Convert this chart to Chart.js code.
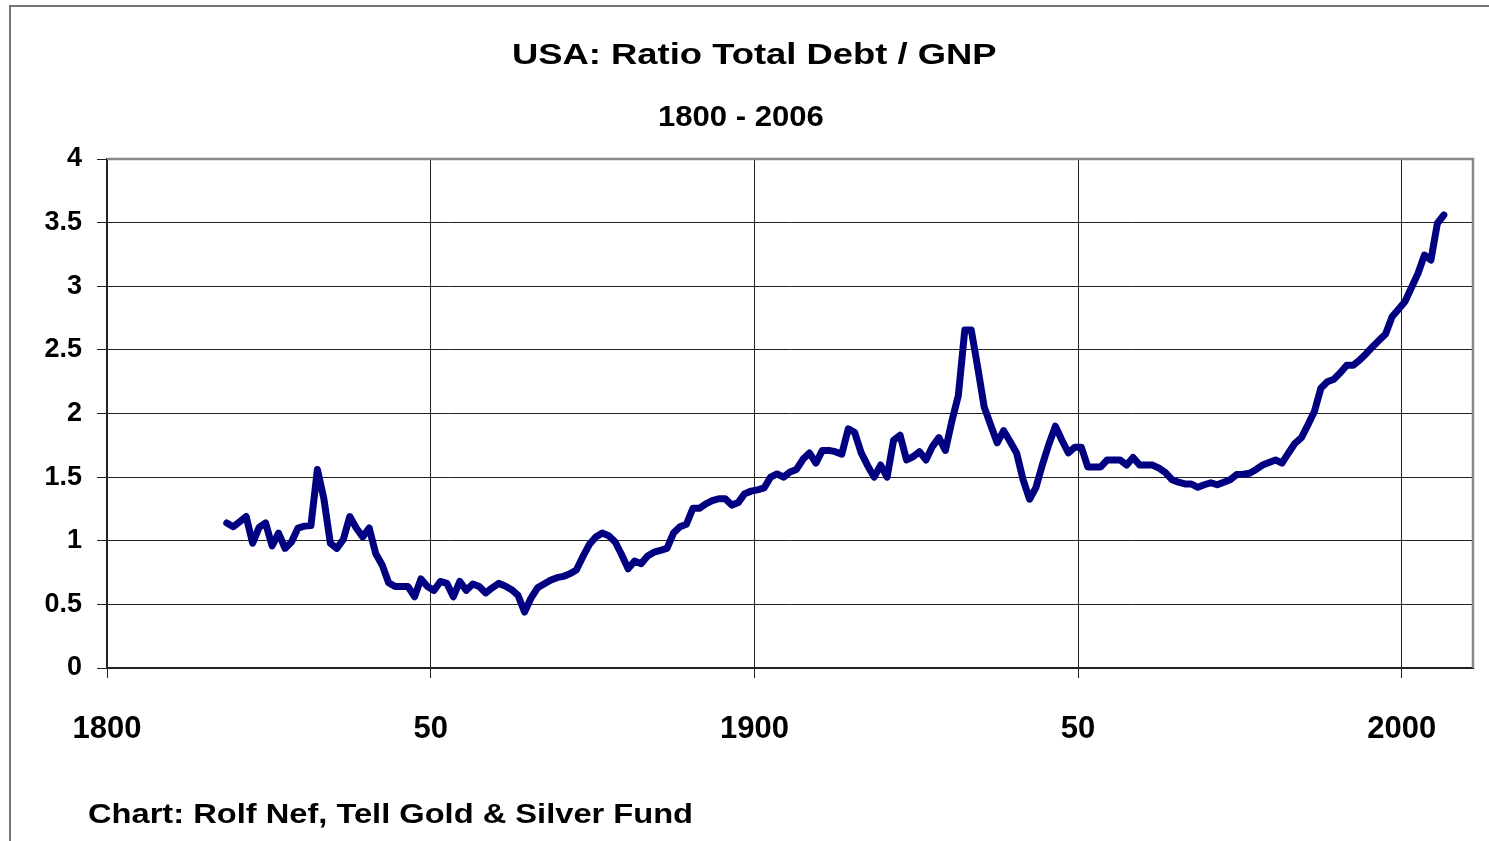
<!DOCTYPE html>
<html>
<head>
<meta charset="utf-8">
<title>USA: Ratio Total Debt / GNP</title>
<script src="https://cdn.jsdelivr.net/npm/chart.js@4.4.1/dist/chart.umd.min.js"></script>
<style>
  html, body { margin: 0; padding: 0; background: #fff; }
  #wrap { position: relative; width: 1489px; height: 841px; overflow: hidden;
          font-family: "Liberation Sans", Arial, sans-serif; font-weight: bold; color: #000; }
  #frame { position: absolute; left: 9px; top: 5px; width: 1500px; height: 900px;
           border-left: 2px solid #777; border-top: 2px solid #777; }
  .txt { position: absolute; white-space: nowrap; line-height: 1; transform-origin: 0 0; }
  #chart { position: absolute; left: 0; top: 0; }
</style>
</head>
<body>
<div id="wrap">
  <div id="frame"></div>
  <canvas id="chart" width="1489" height="841"></canvas>
  <div class="txt" id="title" style="font-size:30px">USA: Ratio Total Debt / GNP</div>
  <div class="txt" id="subtitle" style="font-size:29px">1800 - 2006</div>
  <div class="txt" id="footer" style="font-size:28px">Chart: Rolf Nef, Tell Gold &amp; Silver Fund</div>
</div>
<script>
/* USA total debt / GNP, yearly */

var FIRST_YEAR = 1818;
var DEBT_RATIO = [
  // 1818-1829
  1.14, 1.11, 1.15, 1.19, 0.98, 1.105, 1.14, 0.96, 1.06, 0.94, 0.99, 1.10,
  // 1830s
  1.115, 1.12, 1.56, 1.33, 0.98, 0.94, 1.01, 1.19, 1.10, 1.03,
  // 1840s
  1.10, 0.90, 0.81, 0.67, 0.64, 0.64, 0.64, 0.56, 0.70, 0.64,
  // 1850s
  0.61, 0.68, 0.665, 0.56, 0.68, 0.61, 0.66, 0.64, 0.59, 0.63,
  // 1860s
  0.665, 0.645, 0.615, 0.57, 0.44, 0.55, 0.63, 0.66, 0.69, 0.71,
  // 1870s
  0.72, 0.74, 0.77, 0.875, 0.97, 1.03, 1.06, 1.04, 0.99, 0.89,
  // 1880s
  0.78, 0.84, 0.82, 0.88, 0.91, 0.925, 0.94, 1.06, 1.11, 1.13,
  // 1890s
  1.255, 1.255, 1.29, 1.315, 1.33, 1.33, 1.28, 1.30, 1.37, 1.39,
  // 1900s
  1.40, 1.415, 1.50, 1.525, 1.50, 1.54, 1.56, 1.64, 1.69, 1.61,
  // 1910s
  1.71, 1.71, 1.70, 1.68, 1.88, 1.85, 1.69, 1.59, 1.50, 1.595,
  // 1920s
  1.50, 1.79, 1.83, 1.635, 1.66, 1.70, 1.635, 1.74, 1.81, 1.71,
  // 1930s
  1.94, 2.14, 2.656, 2.656, 2.36, 2.05, 1.91, 1.77, 1.865, 1.78,
  // 1940s
  1.69, 1.48, 1.326, 1.42, 1.60, 1.76, 1.90, 1.79, 1.69, 1.735,
  // 1950s
  1.735, 1.58, 1.58, 1.58, 1.635, 1.635, 1.635, 1.595, 1.655, 1.595,
  // 1960s
  1.595, 1.595, 1.57, 1.535, 1.48, 1.46, 1.446, 1.446, 1.42, 1.44,
  // 1970s
  1.456, 1.44, 1.46, 1.48, 1.52, 1.522, 1.53, 1.56, 1.595, 1.615,
  // 1980s
  1.635, 1.61, 1.69, 1.766, 1.81, 1.91, 2.015, 2.198, 2.25, 2.27,
  // 1990s
  2.32, 2.38, 2.38, 2.42, 2.47, 2.525, 2.575, 2.625, 2.76, 2.82,
  // 2000-2006
  2.88, 2.99, 3.10, 3.245, 3.206, 3.495, 3.56
];

var X_TICKS = [1800, 1850, 1900, 1950, 2000];
var X_TICK_LABELS = ['1800', '50', '1900', '50', '2000'];

var FONT = '"Liberation Sans", Arial, sans-serif';
var LINE_COLOR = '#000080';
var GRID_COLOR = '#222';

// Excel puts each year in the middle of its category slot
var points = DEBT_RATIO.map(function(v, i) { return { x: FIRST_YEAR + i + 0.5, y: v }; });

// grey border on top / right of plot area
var plotFrame = {
  id: 'plotFrame',
  beforeDatasetsDraw: function(chart) {
    var a = chart.chartArea, c = chart.ctx;
    c.save();
    c.strokeStyle = '#888';
    c.lineWidth = 2.5;
    c.beginPath();
    c.moveTo(a.left, a.top);
    c.lineTo(a.right, a.top);
    c.lineTo(a.right, a.bottom);
    c.stroke();
    c.restore();
  }
};

new Chart(document.getElementById('chart'), {
  type: 'line',
  data: {
    datasets: [{
      data: points,
      borderColor: LINE_COLOR,
      borderWidth: 7,
      pointRadius: 0,
      tension: 0,
      borderJoinStyle: 'round',
      borderCapStyle: 'round',
      fill: false
    }]
  },
  options: {
    responsive: false,
    animation: false,
    devicePixelRatio: 1,
    layout: { padding: { left: 10, right: 16, top: 159, bottom: 93 } },
    plugins: { legend: { display: false }, tooltip: { enabled: false }, title: { display: false } },
    scales: {
      x: {
        type: 'linear',
        min: 1800,
        max: 2011,
        afterBuildTicks: function(scale) {
          scale.ticks = X_TICKS.map(function(v) { return { value: v }; });
        },
        afterFit: function(scale) { scale.height = 80; },
        grid: { color: GRID_COLOR, lineWidth: 1, tickLength: 10, tickColor: GRID_COLOR },
        border: { color: '#222', width: 2 },
        ticks: {
          color: '#000',
          padding: 33,
          maxRotation: 0,
          autoSkip: false,
          font: { family: FONT, size: 31, weight: 'bold' },
          callback: function(v) {
            var i = X_TICKS.indexOf(v);
            return i >= 0 ? X_TICK_LABELS[i] : '';
          }
        }
      },
      y: {
        min: 0,
        max: 4,
        afterFit: function(scale) { scale.width = 97; },
        grid: { color: GRID_COLOR, lineWidth: 1, tickLength: 10, tickColor: GRID_COLOR },
        border: { color: '#222', width: 2 },
        ticks: {
          color: '#000',
          stepSize: 0.5,
          padding: 15,
          font: { family: FONT, size: 27, weight: 'bold' },
          callback: function(v) { return String(v); }
        }
      }
    }
  },
  plugins: [plotFrame]
});

// place html text: left edge, top of capitals, target width (source is horizontally stretched)
function place(id, left, capTop, width, centre) {
  var el = document.getElementById(id);
  var fs = parseFloat(el.style.fontSize);
  var w = el.offsetWidth;
  var sx = width / w;
  el.style.left = (centre ? centre - width / 2 : left) + 'px';
  el.style.top = (capTop - 0.13 * fs) + 'px';
  el.style.transform = 'scaleX(' + sx + ')';
}
place('title', 0, 43, 484, 754);
place('subtitle', 0, 106, 166, 741);
place('footer', 88, 804, 605);
</script>
</body>
</html>
